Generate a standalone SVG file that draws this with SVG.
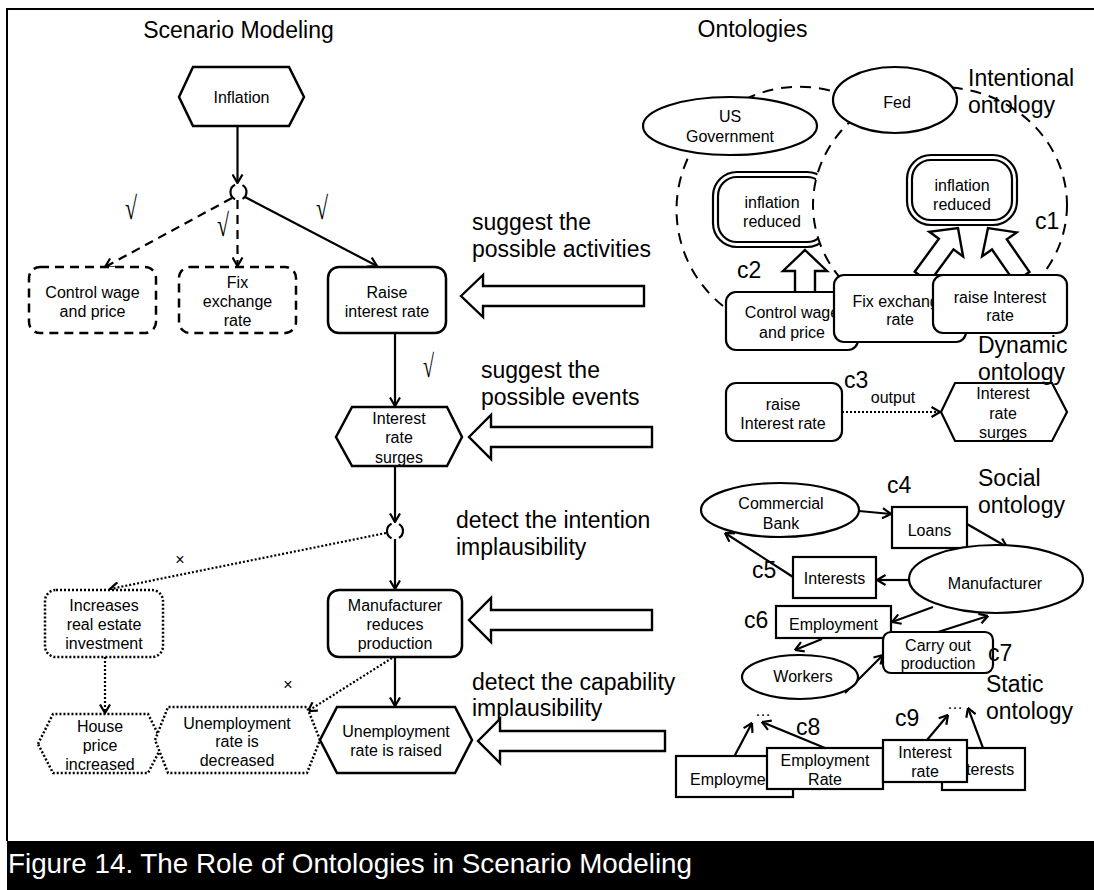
<svg xmlns="http://www.w3.org/2000/svg" width="1094" height="890" viewBox="0 0 1094 890">
<defs>
  <marker id="ah" viewBox="0 0 10 12" refX="9.5" refY="6" markerWidth="10" markerHeight="12" markerUnits="userSpaceOnUse" orient="auto">
    <path d="M1,1 L9.5,6 L1,11" fill="none" stroke="#000" stroke-width="2.2"/>
  </marker>
</defs>
<style>
  text { font-family: "Liberation Sans", Arial, sans-serif; fill: #000; }
  .t16 { font-size: 16px; text-anchor: middle; }
  .t23 { font-size: 23px; }
  .box { fill: #fff; stroke: #000; stroke-width: 2.5; }
  .obox { fill: #fff; stroke: #000; stroke-width: 2.2; }
  .dash { stroke-dasharray: 9 6; }
  .dot { stroke-dasharray: 2 2; }
  .ln { fill: none; stroke: #000; stroke-width: 2.2; }
  .arr { marker-end: url(#ah); }
  .bnd { fill: none; stroke: #000; stroke-width: 2; stroke-dasharray: 11 8; }
  .blk { fill: #fff; stroke: #000; stroke-width: 2.4; stroke-linejoin: miter; }
  .chk { font-family: "Liberation Serif", "Times New Roman", serif; font-size: 32px; }
</style>

<rect width="1094" height="890" fill="#fff"/>
<!-- frame -->
<path d="M7,841 V9 H1094" fill="none" stroke="#000" stroke-width="2"/>

<!-- section titles -->
<text class="t23" x="238.5" y="38" text-anchor="middle">Scenario Modeling</text>
<text class="t23" x="752.5" y="37" text-anchor="middle">Ontologies</text>

<!-- actor boundary of US Government (partly hidden) -->
<g id="boundary-us">
  <path class="bnd" d="M723,306 A123,123 0 0 1 860,102.6"/>
</g>

<!-- goal of US Government -->
<g id="goal-us">
  <rect x="713" y="172" width="118" height="75" rx="24" fill="#fff" stroke="#000" stroke-width="2.2"/>
  <rect x="718" y="177" width="108" height="65" rx="19" fill="none" stroke="#000" stroke-width="2.2"/>
  <text class="t16" x="772" y="208">inflation</text>
  <text class="t16" x="772" y="227">reduced</text>
</g>

<!-- actor boundary of Fed -->
<g id="boundary-fed">
  <ellipse cx="940" cy="205" rx="127" ry="118" fill="#fff" stroke="#000" stroke-width="2" stroke-dasharray="11 8"/>
</g>

<!-- connectors -->
<g id="connectors">
  <!-- scenario model links -->
  <path class="ln arr" d="M237.5,126 V183"/>
  <path class="ln arr dash" d="M232,198 L105,267"/>
  <path class="ln arr dash" d="M237.5,200 V266"/>
  <path class="ln arr" d="M245,197 L377,266"/>
  <path class="ln arr" d="M395,333 V406"/>
  <path class="ln arr" d="M395,466 V522"/>
  <path class="ln arr dot" d="M386,533 L110,589"/>
  <path class="ln arr" d="M395,539 V589"/>
  <path class="ln arr dot" d="M105,657 V713"/>
  <path class="ln arr dot" d="M392,658 L308,711"/>
  <path class="ln arr" d="M395,657 V706"/>

  <!-- ontology to scenario block arrows -->
  <polygon class="blk" points="461,296 483,275 483,286 644,286 644,306 483,306 483,317"/>
  <polygon class="blk" points="469,437 491,415 491,427 652,427 652,447 491,447 491,459"/>
  <polygon class="blk" points="469,620 491,598 491,610 652,610 652,630 491,630 491,642"/>
  <polygon class="blk" points="478,741 500,719 500,731 665,731 665,751 500,751 500,763"/>

  <!-- means-end links -->
  <polygon class="blk" points="805,250 827,271 815,271 815,294 795,294 795,271 783,271"/>
  <polygon class="blk" points="914.7,271.7 938.9,238.8 929.3,231.7 958,228 963.1,256.5 953.5,249.4 929.3,282.3"/>
  <polygon class="blk" points="1014.6,282.1 992,249.5 982.1,256.4 988,228 1016.7,232.4 1006.8,239.3 1029.4,271.9"/>

  <!-- dynamic ontology -->
  <path class="ln arr dot" d="M842,412 H940"/>

  <!-- social ontology -->
  <path class="ln arr" d="M859,511 L891,514"/>
  <path class="ln arr" d="M967,524 L1007,547"/>
  <path class="ln arr" d="M909,580 L877,580"/>
  <path class="ln arr" d="M793,577 L725,533"/>
  <path class="ln arr" d="M933,607 L892,622"/>
  <path class="ln arr" d="M938,632 L988,616"/>
  <path class="ln arr" d="M822,639 L795,650"/>
  <path class="ln arr" d="M845,693 L883,655"/>

  <!-- static ontology -->
  <path class="ln arr" d="M735,755 L752,723"/>
  <path class="ln arr" d="M825,748 L762,722"/>
  <path class="ln arr" d="M927,740 L948,715"/>
  <path class="ln arr" d="M983,748 L968,708"/>
</g>

<!-- scenario model nodes -->
<g id="n-inflation">
  <polygon class="box" points="179,97 193,67 289,67 304,97 289,126 193,126"/>
  <text class="t16" x="241.5" y="103">Inflation</text>
</g>
<g id="n-junction1">
  <path class="ln" d="M235.1,184.75 A8,8 0 0 0 235.1,199.25"/>
  <path class="ln" d="M242.5,185.1 A8,8 0 0 1 242.5,198.9"/>
</g>
<g id="n-control">
  <rect class="box dash" x="29" y="267" width="127" height="66" rx="11"/>
  <text class="t16" x="92.5" y="298">Control wage</text>
  <text class="t16" x="92.5" y="317">and price</text>
</g>
<g id="n-fix">
  <rect class="box dash" x="179" y="267" width="117" height="66" rx="11"/>
  <text class="t16" x="237.5" y="288">Fix</text>
  <text class="t16" x="237.5" y="307">exchange</text>
  <text class="t16" x="237.5" y="326">rate</text>
</g>
<g id="n-raise">
  <rect class="box" x="328" y="267" width="118" height="66" rx="11"/>
  <text class="t16" x="387" y="298">Raise</text>
  <text class="t16" x="387" y="317">interest rate</text>
</g>
<g id="n-surges">
  <polygon class="box" points="336,437 352,407 447,407 462,437 447,466 352,466"/>
  <text class="t16" x="399" y="424">Interest</text>
  <text class="t16" x="399" y="443">rate</text>
  <text class="t16" x="399" y="463">surges</text>
</g>
<g id="n-junction2">
  <path class="ln" d="M391.6,523.75 A8,8 0 0 0 391.6,538.25"/>
  <path class="ln" d="M399,524.1 A8,8 0 0 1 399,537.9"/>
</g>
<g id="n-increases">
  <rect class="box dot" x="45" y="590" width="118" height="67" rx="11"/>
  <text class="t16" x="104" y="611">Increases</text>
  <text class="t16" x="104" y="630">real estate</text>
  <text class="t16" x="104" y="649">investment</text>
</g>
<g id="n-manufacturer">
  <rect class="box" x="328" y="590" width="134" height="67" rx="11"/>
  <text class="t16" x="395" y="611">Manufacturer</text>
  <text class="t16" x="395" y="630">reduces</text>
  <text class="t16" x="395" y="649">production</text>
</g>
<g id="n-house">
  <polygon class="box dot" points="38,744 53,714 148,714 163,744 148,773 53,773"/>
  <text class="t16" x="100" y="732">House</text>
  <text class="t16" x="100" y="751">price</text>
  <text class="t16" x="100" y="770">increased</text>
</g>
<g id="n-unemp-dec">
  <polygon class="box dot" points="155,740 168,707 307,707 320,740 307,773 168,773"/>
  <text class="t16" x="237" y="729">Unemployment</text>
  <text class="t16" x="237" y="747">rate is</text>
  <text class="t16" x="237" y="766">decreased</text>
</g>
<g id="n-unemp-raised">
  <polygon class="box" points="320,740 337,707 455,707 472,740 455,773 337,773"/>
  <text class="t16" x="396" y="737">Unemployment</text>
  <text class="t16" x="396" y="756">rate is raised</text>
</g>

<!-- check and cross marks -->
<g id="marks">
  <text class="chk" x="125" y="219" textLength="12" lengthAdjust="spacingAndGlyphs">√</text>
  <text class="chk" x="217" y="236" textLength="12" lengthAdjust="spacingAndGlyphs">√</text>
  <text class="chk" x="316" y="219" textLength="12" lengthAdjust="spacingAndGlyphs">√</text>
  <text class="chk" x="423" y="377" textLength="11" lengthAdjust="spacingAndGlyphs">√</text>
  <text class="t16" x="180" y="565">×</text>
  <text class="t16" x="288" y="690">×</text>
</g>

<!-- block arrow captions -->
<g id="arrow-labels">
  <text class="t23" x="472" y="230">suggest the</text>
  <text class="t23" x="472" y="257">possible activities</text>
  <text class="t23" x="481" y="378">suggest the</text>
  <text class="t23" x="481" y="405">possible events</text>
  <text class="t23" x="456" y="528">detect the intention</text>
  <text class="t23" x="456" y="555">implausibility</text>
  <text class="t23" x="472" y="690">detect the capability</text>
  <text class="t23" x="472" y="716">implausibility</text>
</g>

<!-- intentional ontology -->
<g id="goal-fed">
  <rect x="907" y="155" width="110" height="70" rx="24" fill="#fff" stroke="#000" stroke-width="2.2"/>
  <rect x="912" y="160" width="100" height="60" rx="19" fill="none" stroke="#000" stroke-width="2.2"/>
  <text class="t16" x="962" y="191">inflation</text>
  <text class="t16" x="962" y="210">reduced</text>
</g>
<g id="task-control">
  <rect class="obox" x="726" y="292" width="132" height="58" rx="10"/>
  <text class="t16" x="792" y="318">Control wage</text>
  <text class="t16" x="792" y="338">and price</text>
</g>
<g id="task-fix">
  <rect class="obox" x="834" y="275" width="132" height="67" rx="10"/>
  <text class="t16" x="900" y="307">Fix exchange</text>
  <text class="t16" x="900" y="325">rate</text>
</g>
<g id="task-raise">
  <rect class="obox" x="933" y="275" width="134" height="58" rx="10"/>
  <text class="t16" x="1000" y="303">raise Interest</text>
  <text class="t16" x="1000" y="321">rate</text>
</g>
<g id="actor-us">
  <ellipse class="obox" cx="730" cy="126" rx="87" ry="29"/>
  <text class="t16" x="730" y="122">US</text>
  <text class="t16" x="730" y="142">Government</text>
</g>
<g id="actor-fed">
  <ellipse class="obox" cx="895" cy="100" rx="62" ry="33"/>
  <text class="t16" x="897" y="108">Fed</text>
</g>
<text class="t23" x="968" y="86">Intentional</text>
<text class="t23" x="968" y="113">ontology</text>
<text class="t23" x="1035" y="229">c1</text>
<text class="t23" x="737" y="278">c2</text>

<!-- dynamic ontology -->
<g id="dyn-raise">
  <rect class="obox" x="726" y="383" width="116" height="58" rx="10"/>
  <text class="t16" x="783" y="410">raise</text>
  <text class="t16" x="783" y="429">Interest rate</text>
</g>
<g id="dyn-surges">
  <polygon class="obox" points="941,412 955,383 1052,383 1067,412 1052,441 955,441"/>
  <text class="t16" x="1003" y="399">Interest</text>
  <text class="t16" x="1003" y="419">rate</text>
  <text class="t16" x="1003" y="438">surges</text>
</g>
<text class="t16" x="893" y="403">output</text>
<text class="t23" x="978" y="353">Dynamic</text>
<text class="t23" x="978" y="380">ontology</text>
<text class="t23" x="844" y="388">c3</text>

<!-- social ontology -->
<g id="soc-bank">
  <ellipse class="obox" cx="780" cy="510" rx="79" ry="27"/>
  <text class="t16" x="781" y="509">Commercial</text>
  <text class="t16" x="781" y="529">Bank</text>
</g>
<g id="soc-loans">
  <rect class="obox" x="892" y="507" width="75" height="41"/>
  <text class="t16" x="929.5" y="536">Loans</text>
</g>
<g id="soc-manufacturer">
  <ellipse class="obox" cx="996" cy="579" rx="87" ry="34"/>
  <text class="t16" x="995" y="589">Manufacturer</text>
</g>
<g id="soc-interests">
  <rect class="obox" x="793" y="557" width="83" height="41"/>
  <text class="t16" x="834.5" y="584">Interests</text>
</g>
<g id="soc-employment">
  <rect class="obox" x="776" y="606" width="115" height="32"/>
  <text class="t16" x="833.5" y="630">Employment</text>
</g>
<g id="soc-production">
  <rect class="obox" x="883" y="632" width="110" height="41" rx="8"/>
  <text class="t16" x="938" y="651">Carry out</text>
  <text class="t16" x="938" y="669">production</text>
</g>
<g id="soc-workers">
  <ellipse class="obox" cx="800" cy="677" rx="58" ry="22"/>
  <text class="t16" x="803" y="682">Workers</text>
</g>
<text class="t23" x="978" y="486">Social</text>
<text class="t23" x="978" y="513">ontology</text>
<text class="t23" x="887" y="493">c4</text>
<text class="t23" x="752" y="578">c5</text>
<text class="t23" x="744" y="628">c6</text>
<text class="t23" x="988" y="661">c7</text>

<!-- static ontology -->
<g id="st-employment">
  <rect class="obox" x="676" y="756" width="117" height="41"/>
  <text class="t16" x="734.5" y="785">Employment</text>
</g>
<g id="st-employment-rate">
  <rect class="obox" x="767" y="748" width="116" height="41"/>
  <text class="t16" x="825" y="766">Employment</text>
  <text class="t16" x="825" y="785">Rate</text>
</g>
<g id="st-interests">
  <rect class="obox" x="942" y="748" width="83" height="42"/>
  <text class="t16" x="983.5" y="775">Interests</text>
</g>
<g id="st-interest-rate">
  <rect class="obox" x="883" y="740" width="84" height="42"/>
  <text class="t16" x="925" y="758">Interest</text>
  <text class="t16" x="925" y="777">rate</text>
</g>
<text class="t16" x="763" y="716">…</text>
<text class="t16" x="955" y="709">…</text>
<text class="t23" x="986" y="692">Static</text>
<text class="t23" x="986" y="719">ontology</text>
<text class="t23" x="796" y="735">c8</text>
<text class="t23" x="895" y="726">c9</text>

<!-- caption -->
<rect x="7" y="841" width="1087" height="49" fill="#000"/>
<text x="8" y="873" font-size="28" style="fill:#fff" textLength="684" lengthAdjust="spacingAndGlyphs">Figure 14. The Role of Ontologies in Scenario Modeling</text>
</svg>
